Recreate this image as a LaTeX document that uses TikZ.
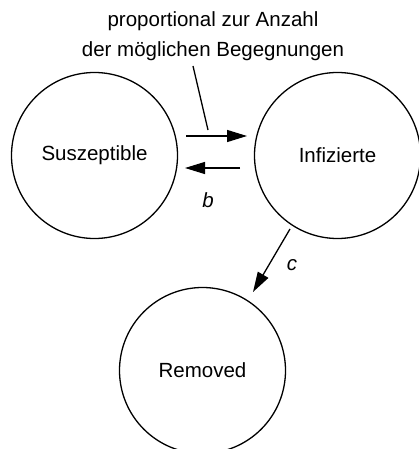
\documentclass[tikz,border=0pt]{standalone}
\usepackage{fontspec}
\setmainfont{Liberation Sans}
\usetikzlibrary{arrows.meta}
\begin{document}
\begin{tikzpicture}[x=1pt,y=-1pt,
  state/.style={draw,line width=1.3pt,circle,minimum size=166pt,inner sep=0pt,font=\fontsize{20.5}{24}\selectfont},
  lbl/.style={font=\fontsize{20.5}{24}\selectfont\itshape},
  txt/.style={font=\fontsize{20.5}{24}\selectfont,align=center},
  arr/.style={line width=1.3pt,-{Triangle[length=20pt,width=12pt]}},
  thin/.style={line width=1.3pt}]
\useasboundingbox (0,0) rectangle (418,449);
\node[state] (S) at (94.5,155.5) {Suszeptible};
\node[state] (I) at (337.5,155.5) {Infizierte};
\node[state] (R) at (202.5,370.5) {Removed};
\node[txt] (t1) at (213,21) {proportional zur Anzahl};
\node[txt] (t2) at (213,51) {der möglichen Begegnungen};
\coordinate (a1s) at (186,136);
\coordinate (a1e) at (247,136);
\coordinate (a2s) at (240,168);
\coordinate (a2e) at (185,168);
\draw[arr] (a1s) -- (a1e);
\draw[arr] (a2s) -- (a2e);
\coordinate (p1) at (193,66);
\coordinate (p2) at (208,130);
\draw[thin] (p1) -- (p2);
\node[lbl] (b) at (208,200) {b};
\coordinate (c1) at (290,229);
\coordinate (c2) at (253,292);
\draw[arr] (c1) -- (c2);
\node[lbl] (c) at (292,265) {c};
\end{tikzpicture}
\end{document}
